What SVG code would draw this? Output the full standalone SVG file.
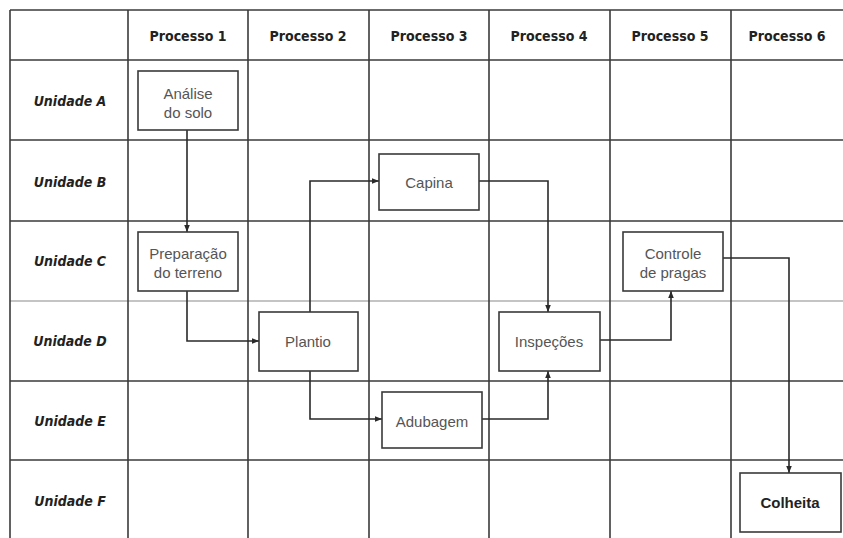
<svg xmlns="http://www.w3.org/2000/svg" width="843" height="538" viewBox="0 0 843 538">
<style>
.grid line{stroke:#3a3a3a;stroke-width:1.6}
.grid line.faint{stroke:#8a8a8a;stroke-width:1.2}
.hdr{font-family:"Liberation Sans Narrow","DejaVu Sans Condensed","Liberation Sans",sans-serif;font-weight:bold;font-size:14px;fill:#222;text-anchor:middle;dominant-baseline:central}
.row{font-family:"Liberation Sans Narrow","DejaVu Sans Condensed","Liberation Sans",sans-serif;font-weight:bold;font-style:italic;font-size:14px;fill:#222;text-anchor:middle;dominant-baseline:central}
.node rect{fill:#fff;stroke:#3a3a3a;stroke-width:1.6}
.node text{font-family:"Liberation Sans",Arial,sans-serif;font-size:15px;fill:#555;text-anchor:middle;dominant-baseline:central}
.node text.b{font-weight:bold;fill:#222;font-size:15px}
.conn path{fill:none;stroke:#2a2a2a;stroke-width:1.6;marker-end:url(#ah)}
</style>
<defs>
<marker id="ah" viewBox="0 0 10 10" refX="10" refY="5" markerWidth="7" markerHeight="7" markerUnits="userSpaceOnUse" orient="auto">
<path d="M0,1 L10,5 L0,9 z" fill="#2a2a2a"/>
</marker>
</defs>
<rect width="843" height="538" fill="#fff"/>
<g class="grid">
<line x1="10" y1="10" x2="843" y2="10"/>
<line x1="10" y1="60" x2="843" y2="60"/>
<line x1="10" y1="140" x2="843" y2="140"/>
<line x1="10" y1="221" x2="843" y2="221"/>
<line class="faint" x1="10" y1="301" x2="843" y2="301"/>
<line x1="10" y1="381" x2="843" y2="381"/>
<line x1="10" y1="460" x2="843" y2="460"/>
<line x1="10" y1="10" x2="10" y2="538"/>
<line x1="128" y1="10" x2="128" y2="538"/>
<line x1="248" y1="10" x2="248" y2="538"/>
<line x1="369" y1="10" x2="369" y2="538"/>
<line x1="489" y1="10" x2="489" y2="538"/>
<line x1="610" y1="10" x2="610" y2="538"/>
<line x1="731" y1="10" x2="731" y2="538"/>
</g>
<g id="headers">
<text class="hdr" x="188" y="36">Processo 1</text>
<text class="hdr" x="308" y="36">Processo 2</text>
<text class="hdr" x="429" y="36">Processo 3</text>
<text class="hdr" x="549" y="36">Processo 4</text>
<text class="hdr" x="670" y="36">Processo 5</text>
<text class="hdr" x="787" y="36">Processo 6</text>
</g>
<g id="rows">
<text class="row" x="70" y="101">Unidade A</text>
<text class="row" x="70" y="182">Unidade B</text>
<text class="row" x="70" y="261">Unidade C</text>
<text class="row" x="70" y="341">Unidade D</text>
<text class="row" x="70" y="421">Unidade E</text>
<text class="row" x="70" y="501">Unidade F</text>
</g>
<g class="conn" id="connectors">
<path d="M187,130 V232"/>
<path d="M187,291 V341 H259"/>
<path d="M310,312 V181 H379"/>
<path d="M310,371 V419 H382"/>
<path d="M479,181 H548 V312"/>
<path d="M482,419 H548 V371"/>
<path d="M600,340 H671 V291"/>
<path d="M723,258 H789 V473"/>
</g>
<g class="node" id="analise">
<rect x="138" y="71" width="100" height="59"/>
<text x="188" y="93">Análise</text>
<text x="188" y="112">do solo</text>
</g>
<g class="node" id="preparacao">
<rect x="138" y="232" width="100" height="59"/>
<text x="188" y="253">Preparação</text>
<text x="188" y="272">do terreno</text>
</g>
<g class="node" id="capina">
<rect x="379" y="154" width="100" height="56"/>
<text x="429" y="182">Capina</text>
</g>
<g class="node" id="plantio">
<rect x="259" y="312" width="99" height="59"/>
<text x="308" y="341">Plantio</text>
</g>
<g class="node" id="adubagem">
<rect x="382" y="392" width="100" height="56"/>
<text x="432" y="421">Adubagem</text>
</g>
<g class="node" id="inspecoes">
<rect x="499" y="312" width="101" height="59"/>
<text x="549" y="341">Inspeções</text>
</g>
<g class="node" id="controle">
<rect x="623" y="232" width="100" height="59"/>
<text x="673" y="253">Controle</text>
<text x="673" y="272">de pragas</text>
</g>
<g class="node" id="colheita">
<rect x="740" y="473" width="101" height="59"/>
<text class="b" x="790" y="502">Colheita</text>
</g>
</svg>
